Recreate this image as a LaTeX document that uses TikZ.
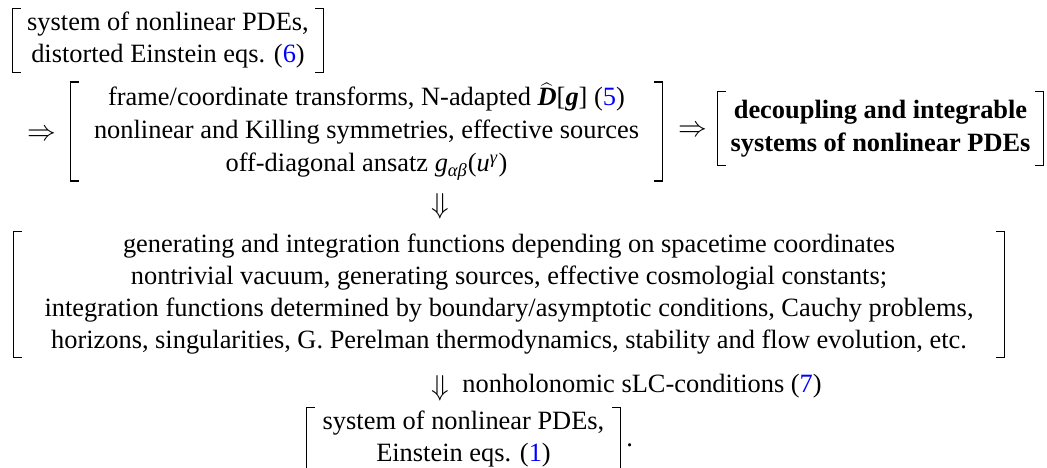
\documentclass[tikz,border=0pt]{standalone}
\usepackage{fontspec}
\setmainfont{Liberation Serif}
\usepackage{xcolor}
\usetikzlibrary{positioning}
\definecolor{eqref}{HTML}{0000FF}
% square brackets on both sides of a named node
\newcommand{\sqbr}[1]{%
  \draw[brk] ([xshift=4pt]#1.north west) -- (#1.north west) -- (#1.south west) -- ([xshift=4pt]#1.south west);
  \draw[brk] ([xshift=-4pt]#1.north east) -- (#1.north east) -- (#1.south east) -- ([xshift=-4pt]#1.south east);}
\newcommand{\eqn}[1]{(\textcolor{eqref}{#1})}

\begin{document}
\begin{tikzpicture}[x=0.5pt, y=-0.5pt,
  blk/.style={align=center, inner sep=0pt, font=\fontsize{13.2}{16}\selectfont},
  sym/.style={inner sep=0pt, font=\fontsize{15.5}{16}\selectfont},
  brk/.style={line width=0.75pt, line cap=rect}
]
  \useasboundingbox (0,0) rectangle (1047,467);
  % distorted system
  \node[blk, minimum width=155pt, minimum height=31.5pt] (dist) at (168,40.5)
    {system of nonlinear PDEs,\\ distorted Einstein eqs. \eqn{6}};
  \sqbr{dist}
  % transforms and ansatz
  \node[sym] (imp1) at (41.5,135) {$\Rightarrow$};
  \node[blk, font=\fontsize{13.2}{16.5}\selectfont, minimum width=295.5pt, minimum height=48.5pt] (trans) at (366.5,131.5)
    {frame/coordinate transforms, N-adapted $\widehat{\mbox{\textbf{\textit{D}}}}$[\textbf{\textit{g}}] \eqn{5}\\
     nonlinear and Killing symmetries, effective sources\\
     off-diagonal ansatz \textit{g}\textsubscript{\textit{αβ}}(\textit{u}\textsuperscript{\textit{γ}})};
  \sqbr{trans}
  \node[sym] (imp2) at (692.5,131) {$\Rightarrow$};
  \node[blk, font=\fontsize{13.2}{16.5}\selectfont\bfseries, minimum width=162.5pt, minimum height=36.5pt] (decoup) at (880.5,128.5)
    {decoupling and integrable\\ systems of nonlinear PDEs};
  \sqbr{decoup}
  % generating functions
  \node[sym] (down1) at (440,206) {$\Downarrow$};
  \node[blk, minimum width=495pt, minimum height=62.5pt] (genf) at (509,294.5)
    {generating and integration functions depending on spacetime coordinates\\
     nontrivial vacuum, generating sources, effective cosmologial constants;\\
     integration functions determined by boundary/asymptotic conditions, Cauchy problems,\\
     horizons, singularities, G. Perelman thermodynamics, stability and flow evolution, etc.};
  \sqbr{genf}
  % LC-conditions and Einstein system
  \node[sym] (down2) at (440,388) {$\Downarrow$};
  \node[blk, anchor=base west] (cond) at (462,392) {nonholonomic sLC-conditions \eqn{7}};
  \node[blk, minimum width=156.5pt, minimum height=31.5pt] (einst) at (463.5,439.5)
    {system of nonlinear PDEs,\\ Einstein eqs. \eqn{1}};
  \sqbr{einst}
  \node[blk, anchor=base west] (stop) at (626,446) {.};
\end{tikzpicture}
\end{document}
